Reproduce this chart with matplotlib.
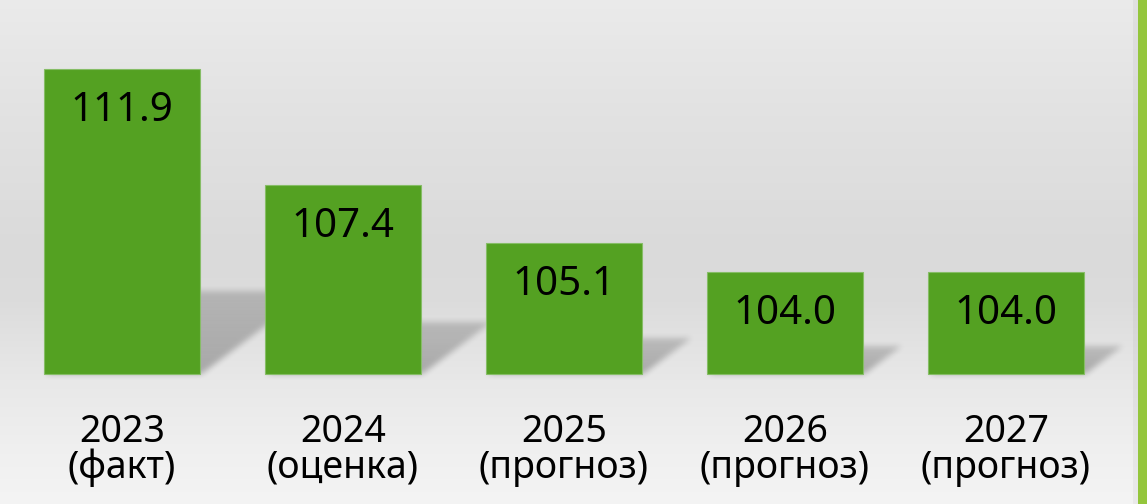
import numpy as np
import matplotlib
matplotlib.use("Agg")
import matplotlib.pyplot as plt
from matplotlib.patches import Rectangle

years = ["2023", "2024", "2025", "2026", "2027"]
notes = ["(факт)", "(оценка)", "(прогноз)", "(прогноз)", "(прогноз)"]
values = [111.9, 107.4, 105.1, 104.0, 104.0]
base = 100

plt.rcParams['font.family'] = ['Noto Sans', 'DejaVu Sans']

W, H = 1147, 504
fig = plt.figure(figsize=(W / 100, H / 100), dpi=100)
ax = fig.add_axes([0, 0, 1, 1])

# pixel geometry of the reference: 221 px per category, 25.6 px per unit
px_x = 221.0
px_y = 25.6
x0_px = 122
base_px = 374
xlim = (-x0_px / px_x, (W - x0_px) / px_x)
ylim = (base - (H - base_px) / px_y, base + base_px / px_y)
ax.set_xlim(*xlim)
ax.set_ylim(*ylim)
ax.axis('off')

# gray vertical gradient background
stops_px = [0, 120, 250, 300, 380, 450, 504]
stops_val = [0.92, 0.885, 0.855, 0.862, 0.91, 0.94, 0.957]
g = np.interp(np.arange(H), stops_px, stops_val)
img = np.repeat(g[:, None, None], 3, axis=2)
ax.imshow(img, extent=(xlim[0], xlim[1], ylim[0], ylim[1]), origin='upper',
          aspect='auto', zorder=0)

bar_w = 156 / px_x
x = np.arange(len(values))


def box_blur(a, r):
    # separable box blur, applied twice for a softer edge
    k = np.ones(2 * r + 1) / (2 * r + 1)
    for _ in range(2):
        a = np.apply_along_axis(lambda m: np.convolve(m, k, mode='same'), 0, a)
        a = np.apply_along_axis(lambda m: np.convolve(m, k, mode='same'), 1, a)
    return a


# soft cast shadows behind the bars, built as an alpha image
alpha = np.zeros((H, W))
xx = np.arange(W)
for i, v in enumerate(values):
    h_px = (v - base) * px_y
    xl = x0_px + i * px_x - 78
    xr = x0_px + i * px_x + 78
    sh = 0.27 * h_px
    d = 0.36 * h_px
    for y in range(int(base_px - sh), base_px):
        f = (base_px - y) / sh
        lo, hi = xl + f * d, xr + f * d
        mask = (xx >= lo) & (xx <= hi)
        alpha[y, mask] = np.maximum(alpha[y, mask], 0.27 * (1 - 0.35 * f))
alpha = box_blur(alpha, 3)
shadow = np.zeros((H, W, 4))
shadow[..., 3] = alpha
ax.imshow(shadow, extent=(xlim[0], xlim[1], ylim[0], ylim[1]), origin='upper',
          aspect='auto', zorder=1)

ax.bar(x, [v - base for v in values], bottom=base, width=bar_w,
       color='#54a122', edgecolor='#86bd66', linewidth=0.8, zorder=2)

for i, v in enumerate(values):
    ax.annotate(f"{v:.1f}", (i, v), xytext=(0, -52), textcoords='offset pixels',
                ha='center', va='baseline', fontsize=29, color='black', zorder=3)
    ax.annotate(years[i], (i, base), xytext=(0, -68), textcoords='offset pixels',
                ha='center', va='baseline', fontsize=27, color='black',
                annotation_clip=False)
    ax.annotate(notes[i], (i, base), xytext=(0, -104), textcoords='offset pixels',
                ha='center', va='baseline', fontsize=27, color='black',
                annotation_clip=False)

# green stripe at the right edge
fig.add_artist(Rectangle((1133 / W, 0), 5 / W, 1, transform=fig.transFigure,
                         facecolor='black', alpha=0.04, edgecolor='none'))
fig.add_artist(Rectangle((1138 / W, 0), 9 / W, 1, transform=fig.transFigure,
                         facecolor='#94c63c', edgecolor='none'))

fig.savefig("out.png", dpi=100)
